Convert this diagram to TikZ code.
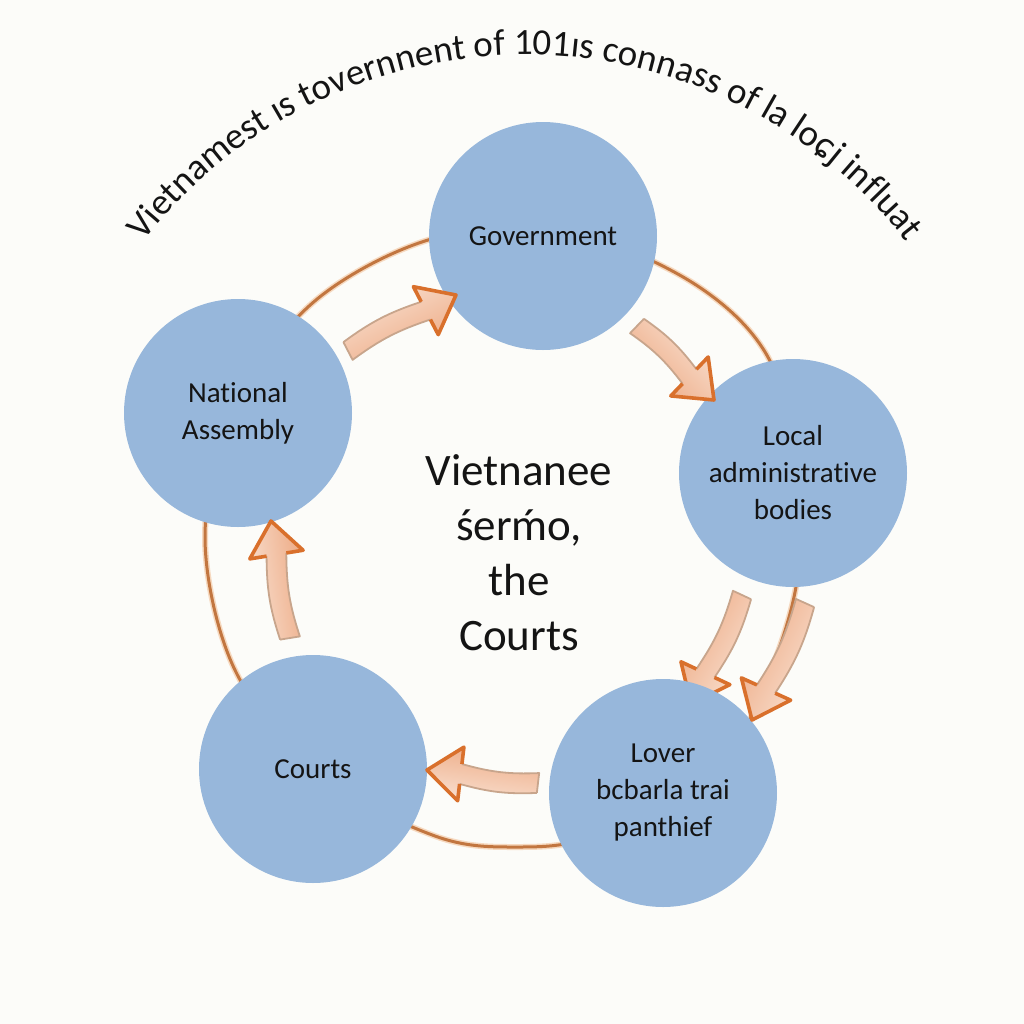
\documentclass[tikz,border=0pt]{standalone}
\usepackage{fontspec}
\setmainfont{Carlito}[Ligatures=NoCommon]
\newfontfamily\djv{DejaVu Sans}
\usetikzlibrary{calc,decorations.text,shadings}
\definecolor{bg}{HTML}{FCFCF9}
\definecolor{nodeblue}{HTML}{97B7DB}
\definecolor{ringc}{HTML}{C27640}
\definecolor{ringglow}{HTML}{F6D9C0}
\definecolor{arrlight}{HTML}{F9E0D0}
\definecolor{arrdark}{HTML}{EDAA84}
\definecolor{arredge}{HTML}{C8A58C}
\definecolor{headedge}{HTML}{D9702C}
\definecolor{txt}{HTML}{141414}
\newcommand\ttlfont{\fontsize{18.5pt}{22pt}\selectfont}
\newcommand\ttlsym{\djv\fontsize{16.5pt}{22pt}\selectfont}
\newcommand\blockarrow[4]{%
 \coordinate (#1-t) at #2;
 \coordinate (#1-p) at #3;
 \coordinate (#1-b) at ($(#1-p)!17pt!(#1-t)$);
 \coordinate (#1-t1) at ($(#1-t)!5pt!90:(#1-p)$);
 \coordinate (#1-t2) at ($(#1-t)!5pt!-90:(#1-p)$);
 \coordinate (#1-s1) at ($(#1-b)!5pt!90:(#1-p)$);
 \coordinate (#1-s2) at ($(#1-b)!5pt!-90:(#1-p)$);
 \coordinate (#1-h1) at ($(#1-b)!13.5pt!90:(#1-p)$);
 \coordinate (#1-h2) at ($(#1-b)!13.5pt!-90:(#1-p)$);
 \shade[left color=arrlight, right color=arrdark, shading angle=#4]
   (#1-t1) to[bend left=9] (#1-s1) -- (#1-h1) -- (#1-p) -- (#1-h2) -- (#1-s2) to[bend right=9] (#1-t2) -- cycle;
 \draw[arredge, line width=0.9pt, line join=round]
   (#1-t1) to[bend left=9] (#1-s1) (#1-s2) to[bend right=9] (#1-t2) -- (#1-t1);
 \draw[headedge, line width=1.8pt, line join=round]
   (#1-s1) -- (#1-h1) -- (#1-p) -- (#1-h2) -- (#1-s2);
}
\begin{document}
\begin{tikzpicture}[x=0.5pt,y=-0.5pt,
  org/.style={circle, fill=nodeblue, minimum size=114pt, inner sep=0pt,
    text=txt, align=center, font=\fontsize{14.5pt}{18.5pt}\selectfont},
  ringpath/.style={line join=round}]
\fill[bg] (0,0) rectangle (1024,1024);
\useasboundingbox (0,0) rectangle (1024,1024);
% ring
\foreach \w/\c in {3pt/ringglow, 1.5pt/ringc}{
\draw[\c, line width=\w] plot[smooth cycle, tension=0.55] coordinates {
 (205,537) (234,668) (316,774) (435,836) (515,847) (595,836) (714,774)
 (766,682) (796,587) (801,487) (769,359) (693,283) (569,232) (435,238)
 (316,300) (234,406)};
}
% arrow partly behind the lower circle
\blockarrow{a3}{(742,595)}{(691,704)}{-120}
% circles
\node[org] (gov) at (543,236) {Government};
\node[org] (na) at (238,413) {National\\Assembly};
\node[org] (local) at (793,473) {Local\\administrative\\bodies};
\node[org] (lower) at (663,793) {Lover\\bcbarla trai\\panthief};
\node[org] (courts) at (313,769) {Courts};
% arrows
\blockarrow{a1}{(348,351)}{(456,295)}{27}
\blockarrow{a2}{(637,326)}{(714,400)}{-46}
\blockarrow{a4}{(805,603)}{(752,720)}{-117}
\blockarrow{a5}{(538,783)}{(427,770)}{172}
\blockarrow{a6}{(290,638)}{(271,521)}{98}
% centre text
\node[text=txt, align=center, font=\fontsize{22.5pt}{27.5pt}\selectfont] (centre) at (519,553)
  {Vietnanee\\śer{\accent"B4 m}o,\\the\\Courts};
% title along arc
\path[decorate, decoration={text along path, text color=txt, text align=center,
  text={|\ttlfont|Vietnamest ıs tovernnent of 101ıs connass of la lo|\ttlsym|ɕ|\ttlfont|j influat}}]
  ($(525,538)+(-150:483)$) arc[start angle=-150, end angle=-30, radius=483];
\end{tikzpicture}
\end{document}
